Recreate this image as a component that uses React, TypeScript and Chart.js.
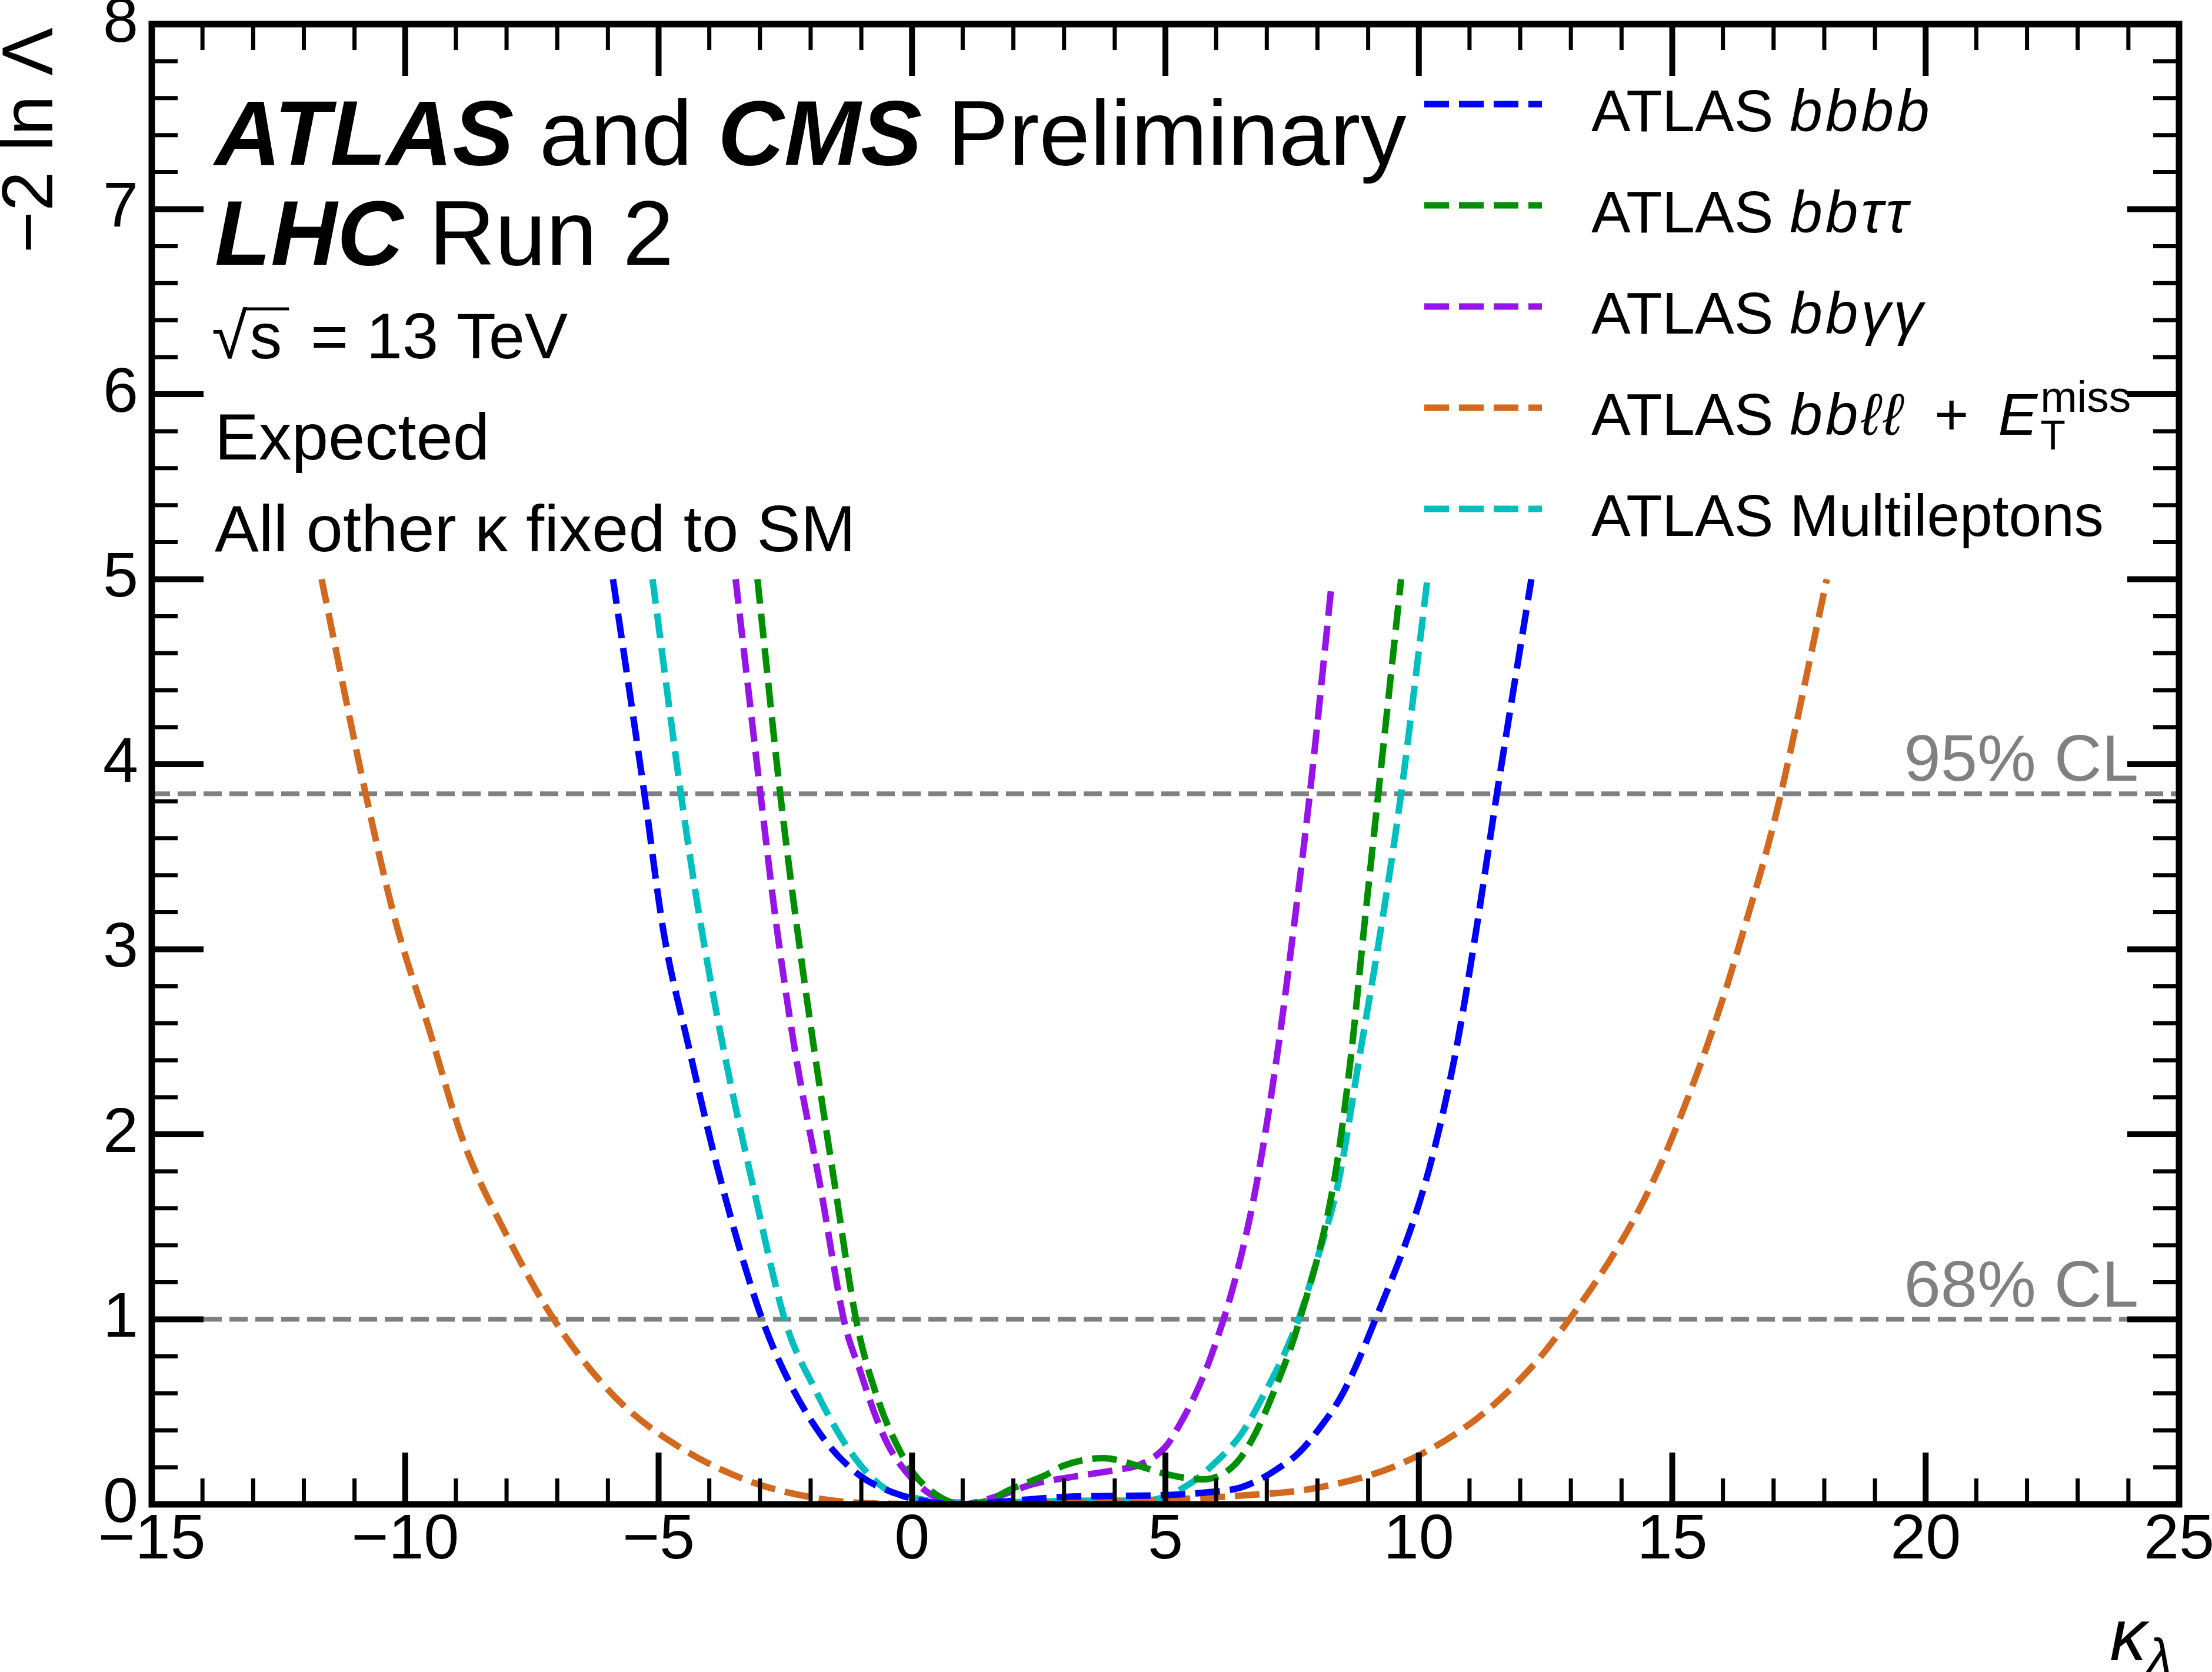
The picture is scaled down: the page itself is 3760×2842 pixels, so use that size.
import { useEffect, useRef } from "react";
import { Chart, registerables } from "chart.js";

Chart.register(...registerables);

const FONT = '"Liberation Sans", Arial, Helvetica, sans-serif';

// -2 ln Lambda scans vs kappa_lambda
const KAPPA_BBBB = [-5.9, -5.28, -4.9, -4.42, -3.84, -3.07, -2.58, -1.81, -1.05, -0.23, 0.4, 1.0, 2.0, 3.0, 4.0, 5.0, 5.84, 6.47, 6.9, 7.2, 7.6, 8.01, 8.5, 9.07, 10.14, 10.71, 11.13, 11.54, 12.22];
const NLL_BBBB = [5.0, 3.84, 3.09, 2.49, 1.82, 1.09, 0.75, 0.38, 0.16, 0.05, 0.01, 0.0, 0.02, 0.04, 0.045, 0.05, 0.065, 0.09, 0.14, 0.19, 0.27, 0.4, 0.6, 0.95, 1.75, 2.42, 3.1, 3.84, 5.0];

const KAPPA_BBTT = [-3.05, -2.6, -2.29, -1.91, -1.52, -1.09, -0.65, -0.26, 0.05, 0.55, 1.0, 1.5, 1.9, 2.65, 3.0, 3.77, 4.44, 5.06, 5.74, 6.35, 6.73, 7.2, 7.63, 8.33, 8.66, 8.91, 9.2, 9.65];
const NLL_BBTT = [5.0, 3.84, 3.16, 2.42, 1.72, 0.98, 0.55, 0.3, 0.16, 0.04, 0.0, 0.02, 0.075, 0.16, 0.21, 0.25, 0.21, 0.16, 0.135, 0.21, 0.36, 0.65, 0.98, 1.75, 2.42, 3.09, 3.84, 5.0];

const KAPPA_BBYY = [-3.48, -2.99, -2.69, -2.29, -1.81, -1.33, -1.01, -0.75, -0.49, -0.13, 0.39, 1.0, 1.7, 2.4, 3.2, 4.0, 4.5, 5.0, 5.3, 5.6, 5.9, 6.38, 6.79, 7.2, 7.52, 7.85, 8.27];
const NLL_BBYY = [5.0, 3.84, 3.16, 2.42, 1.72, 0.98, 0.71, 0.5, 0.33, 0.18, 0.05, 0.0, 0.045, 0.11, 0.15, 0.185, 0.215, 0.31, 0.44, 0.6, 0.8, 1.22, 1.72, 2.42, 3.09, 3.84, 4.95];

const KAPPA_BBLL = [-11.65, -10.78, -10.2, -9.52, -8.85, -7.99, -7.02, -5.86, -4.71, -3.26, -1.81, -0.5, 0.8, 2.5, 4.5, 6.38, 8.01, 9.65, 11.13, 12.22, 12.89, 13.77, 14.34, 14.81, 15.27, 15.69, 16.1, 16.47, 16.83, 17.11, 18.05];
const NLL_BBLL = [5.0, 3.84, 3.16, 2.56, 1.96, 1.45, 0.98, 0.58, 0.33, 0.13, 0.03, 0.003, 0.0, 0.005, 0.02, 0.045, 0.09, 0.22, 0.46, 0.74, 0.97, 1.32, 1.59, 1.86, 2.17, 2.48, 2.82, 3.16, 3.5, 3.8, 5.0];

const KAPPA_ML = [-5.12, -4.56, -4.22, -3.74, -3.16, -2.49, -1.91, -1.23, -0.56, 0.13, 0.8, 1.5, 2.5, 3.5, 4.4, 4.86, 5.53, 6.0, 6.47, 6.8, 7.6, 8.0, 8.42, 8.83, 9.24, 9.65, 10.17];
const NLL_ML = [5.0, 3.84, 3.22, 2.49, 1.75, 0.98, 0.62, 0.29, 0.09, 0.03, 0.01, 0.01, 0.015, 0.02, 0.02, 0.03, 0.12, 0.23, 0.37, 0.52, 0.98, 1.33, 1.75, 2.42, 3.09, 3.84, 5.0];

const CL_LEVELS = [1, 3.84];
const CL_LABELS = ["68% CL", "95% CL"];

type Run = { t: string; i?: boolean; b?: boolean; sub?: boolean; sup?: boolean };

const SERIES: { k: number[]; v: number[]; color: string; label: Run[] }[] = [
  { k: KAPPA_BBBB, v: NLL_BBBB, color: "#0000ff", label: [{ t: "ATLAS " }, { t: "bbbb", i: true }] },
  { k: KAPPA_BBTT, v: NLL_BBTT, color: "#008f00", label: [{ t: "ATLAS " }, { t: "bbττ", i: true }] },
  { k: KAPPA_BBYY, v: NLL_BBYY, color: "#9614e8", label: [{ t: "ATLAS " }, { t: "bbγγ", i: true }] },
  {
    k: KAPPA_BBLL, v: NLL_BBLL, color: "#d2691e",
    label: [{ t: "ATLAS " }, { t: "bbℓℓ", i: true }, { t: "\u2002+\u2002" }, { t: "E", i: true }, { t: "T", sub: true }, { t: "miss", sup: true }],
  },
  { k: KAPPA_ML, v: NLL_ML, color: "#00bfbf", label: [{ t: "ATLAS Multileptons" }] },
];

const minus = (v: number) => (v < 0 ? "\u2212" + Math.abs(v) : String(v));

function drawRuns(ctx: CanvasRenderingContext2D, x: number, y: number, runs: Run[], size: number, italicSpacing = 0) {
  let cx = x;
  let subStart = x;
  for (const r of runs) {
    const s = r.sub ? size * 0.7 : r.sup ? size * 0.75 : size;
    ctx.font = `${r.i ? "italic " : ""}${r.b ? "bold " : ""}${s}px ${FONT}`;
    (ctx as any).letterSpacing = r.i && !r.b ? `${italicSpacing}px` : "0px";
    const dy = r.sub ? size * 0.25 : r.sup ? -size * 0.39 : 0;
    const x0 = r.sup ? subStart : cx;
    ctx.fillText(r.t, x0, y + dy);
    const w = ctx.measureText(r.t).width;
    if (r.sub) {
      subStart = cx;
      cx += w;
    } else if (r.sup) {
      cx = Math.max(cx, x0 + w);
    } else {
      cx += w;
    }
  }
  (ctx as any).letterSpacing = "0px";
  return cx;
}

const decor = {
  id: "decor",
  afterDraw(chart: any) {
    const { ctx, chartArea: a, scales } = chart;
    const xs = scales.x;
    const ys = scales.y;
    ctx.save();
    ctx.fillStyle = "#000";
    ctx.strokeStyle = "#000";
    ctx.setLineDash([]);

    const seg = (x1: number, y1: number, x2: number, y2: number) => {
      ctx.beginPath();
      ctx.moveTo(x1, y1);
      ctx.lineTo(x2, y2);
      ctx.stroke();
    };

    // tick marks on all four sides, pointing inward
    for (let v = xs.min + 1; v < xs.max; v += 1) {
      const major = v % 5 === 0;
      const p = xs.getPixelForValue(v);
      const len = major ? 88 : 44;
      ctx.lineWidth = major ? 10 : 7;
      seg(p, a.bottom, p, a.bottom - len);
      seg(p, a.top, p, a.top + len);
    }
    for (let i = 1; i < 40; i++) {
      const v = i * 0.2;
      const major = i % 5 === 0;
      const p = ys.getPixelForValue(v);
      const len = major ? 88 : 44;
      ctx.lineWidth = major ? 10 : 7;
      seg(a.left, p, a.left + len, p);
      seg(a.right, p, a.right - len, p);
    }
    ctx.lineWidth = 11;
    ctx.strokeRect(a.left, a.top, a.right - a.left, a.bottom - a.top);

    // CL labels
    ctx.fillStyle = "#808080";
    ctx.font = `112px ${FONT}`;
    ctx.textAlign = "right";
    ctx.textBaseline = "alphabetic";
    CL_LEVELS.forEach((lvl, i) => {
      ctx.fillText(CL_LABELS[i], a.right - 69, ys.getPixelForValue(lvl) - 22);
    });

    // header
    ctx.fillStyle = "#000";
    ctx.textAlign = "left";
    drawRuns(ctx, 365, 280, [{ t: "ATLAS", i: true, b: true }, { t: " and " }, { t: "CMS", i: true, b: true }, { t: " Preliminary" }], 156);
    drawRuns(ctx, 365, 450, [{ t: "LHC", i: true, b: true }, { t: " Run 2" }], 156);

    ctx.font = `110px ${FONT}`;
    ctx.fillText("√", 360, 609);
    const rw = ctx.measureText("√").width;
    const sx = 360 + rw + 4;
    ctx.fillText("s", sx, 609);
    const sw = ctx.measureText("s").width;
    ctx.lineWidth = 5;
    seg(sx - 8, 525, sx + sw + 12, 525);
    ctx.fillText(" = 13 TeV", sx + sw + 18, 609);

    ctx.font = `112px ${FONT}`;
    ctx.fillText("Expected", 365, 781);
    ctx.fillText("All other κ fixed to SM", 365, 937);

    // legend
    chart.data.datasets.forEach((ds: any, i: number) => {
      if (i >= SERIES.length) return;
      const ly = 177 + i * 172;
      ctx.strokeStyle = ds.borderColor;
      ctx.lineWidth = 11;
      ctx.setLineDash([42, 17]);
      seg(2421, ly, 2621, ly);
      ctx.setLineDash([]);
      ctx.fillStyle = "#000";
      drawRuns(ctx, 2705, ly + 46, SERIES[i].label, 100, 5);
    });

    // axis titles
    ctx.save();
    ctx.translate(89, 47);
    ctx.rotate(-Math.PI / 2);
    ctx.textAlign = "right";
    ctx.font = `122px ${FONT}`;
    ctx.fillText("\u22122 ln Λ", 0, 0);
    ctx.restore();

    ctx.textAlign = "left";
    ctx.font = `italic 125px ${FONT}`;
    const kw = ctx.measureText("κ").width;
    ctx.font = `italic 88px ${FONT}`;
    const lw = ctx.measureText("λ").width;
    const kx = a.right - 12 - lw - kw;
    ctx.font = `italic 125px ${FONT}`;
    ctx.fillText("κ", kx, 2822);
    ctx.font = `italic 88px ${FONT}`;
    ctx.fillText("λ", kx + kw, 2846);

    ctx.restore();
  },
};

export default function App() {
  const canvasRef = useRef<HTMLCanvasElement>(null);
  const chartRef = useRef<Chart | null>(null);

  useEffect(() => {
    const el = canvasRef.current;
    if (!el) return;
    chartRef.current?.destroy();

    const curves = SERIES.map((s) => ({
      data: s.k.map((k, j) => ({ x: k, y: s.v[j] })),
      borderColor: s.color,
      borderWidth: 11,
      borderDash: [42, 17],
      pointRadius: 0,
      fill: false,
      cubicInterpolationMode: "monotone" as const,
      order: 0,
    }));
    const clLines = CL_LEVELS.map((lvl) => ({
      data: [
        { x: -15, y: lvl },
        { x: 25, y: lvl },
      ],
      borderColor: "#808080",
      borderWidth: 8,
      borderDash: [31, 13],
      pointRadius: 0,
      fill: false,
      order: 1,
    }));

    chartRef.current = new Chart(el, {
      type: "line",
      data: { datasets: [...curves, ...clLines] as any },
      options: {
        animation: false,
        responsive: true,
        maintainAspectRatio: false,
        devicePixelRatio: 1,
        events: [],
        layout: { padding: { top: 41, right: 56, bottom: 0, left: 0 } },
        plugins: { legend: { display: false }, tooltip: { enabled: false } },
        scales: {
          x: {
            type: "linear",
            min: -15,
            max: 25,
            position: "bottom",
            grid: { display: false, drawTicks: false },
            border: { display: false },
            ticks: {
              stepSize: 5,
              padding: 8,
              color: "#000",
              maxRotation: 0,
              autoSkip: false,
              font: { family: FONT, size: 108, lineHeight: 1 },
              callback: (v: any) => minus(Number(v)),
            },
            afterFit: (s: any) => {
              s.height = 285;
              s.paddingLeft = 0;
              s.paddingRight = 0;
            },
          },
          y: {
            type: "linear",
            min: 0,
            max: 8,
            position: "left",
            grid: { display: false, drawTicks: false },
            border: { display: false },
            ticks: {
              stepSize: 1,
              padding: 23,
              color: "#000",
              font: { family: FONT, size: 108, lineHeight: 1 },
              callback: (v: any) => String(v),
            },
            afterFit: (s: any) => {
              s.width = 258;
              s.paddingTop = 0;
              s.paddingBottom = 0;
            },
          },
        },
      } as any,
      plugins: [decor],
    });

    return () => chartRef.current?.destroy();
  }, []);

  return (
    <div style={{ position: "absolute", left: 0, top: 0, width: 3760, height: 2842, background: "#fff" }}>
      <canvas ref={canvasRef} />
    </div>
  );
}
